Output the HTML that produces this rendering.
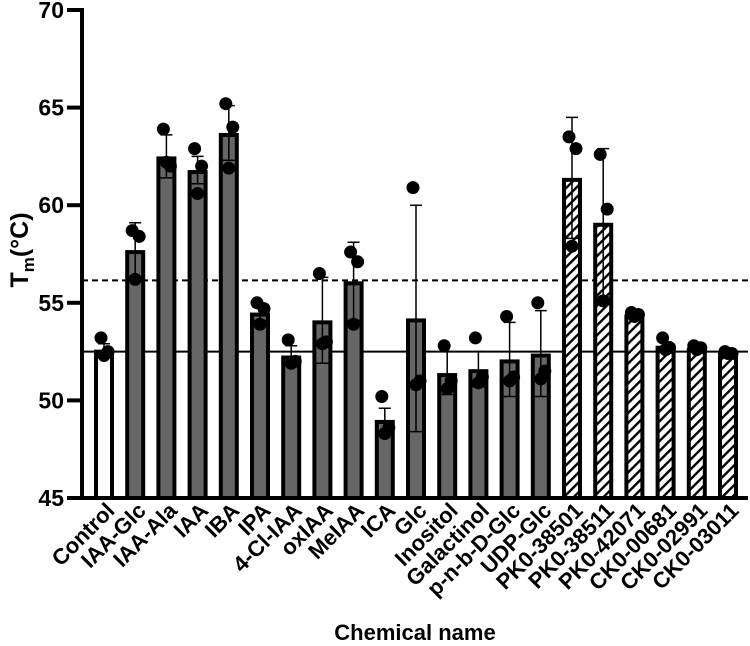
<!DOCTYPE html>
<html><head><meta charset="utf-8"><style>
body{margin:0;background:#fff}
svg{display:block;font-family:"Liberation Sans",Arial,sans-serif;font-weight:bold}
</style></head><body>
<svg id="chart" width="750" height="646" viewBox="0 0 750 646" xmlns="http://www.w3.org/2000/svg">
<defs>
<pattern id="hatch" patternUnits="userSpaceOnUse" width="7" height="7" patternTransform="rotate(45)">
<rect width="7" height="7" fill="#fff"/><rect x="0" y="0" width="2.4" height="7" fill="#000"/>
</pattern>
</defs>
<g id="plot"></g>
</svg>
<script>
const categories=["Control","IAA-Glc","IAA-Ala","IAA","IBA","IPA","4-Cl-IAA","oxIAA","MeIAA","ICA","Glc","Inositol","Galactinol","p-n-b-D-Glc","UDP-Glc","PK0-38501","PK0-38511","PK0-42071","CK0-00681","CK0-02991","CK0-03011"];
const means=[52.6,57.7,62.5,61.8,63.7,54.5,52.3,54.1,56.1,49.0,54.2,51.4,51.6,52.1,52.4,61.4,59.1,54.4,52.8,52.7,52.5];
const sds=[0.3,1.4,1.1,0.7,1.4,0.4,0.5,2.2,2.0,0.6,5.8,1.1,0.9,1.9,2.2,3.1,3.8,0.1,0.2,0.1,0.1];
const rep1=[53.2,58.7,63.9,62.9,65.2,55.0,53.1,56.5,57.6,50.2,60.9,52.8,53.2,54.3,55.0,63.5,62.6,54.5,53.2,52.8,52.5];
const rep2=[52.5,58.4,62.0,62.0,64.0,54.7,52.0,53.0,57.1,48.6,51.0,51.0,51.2,51.2,51.5,62.9,59.8,54.4,52.7,52.7,52.4];
const rep3=[52.3,56.2,62.2,60.6,61.9,53.9,51.9,52.9,53.9,48.3,50.8,50.6,50.9,51.0,51.1,57.9,55.1,54.3,52.6,52.6,52.4];
const kinds=["open","gray","gray","gray","gray","gray","gray","gray","gray","gray","gray","gray","gray","gray","gray","hatch","hatch","hatch","hatch","hatch","hatch"];
const yTicks=[45,50,55,60,65,70];
const refSolid=52.5, refDashed=56.15;

const NS="http://www.w3.org/2000/svg";
const X0=104, STEP=31.2, BW=20, AX=82, AXR=748;
const Y=v=>498-(v-45)*19.52;
const X=i=>X0+i*STEP;
const g=document.getElementById('plot');
function mk(t,a){const e=document.createElementNS(NS,t);for(const k in a)e.setAttribute(k,a[k]);g.appendChild(e);return e;}

let l=mk('line',{x1:AX,x2:AXR,y1:Y(refSolid),y2:Y(refSolid),stroke:'#000','stroke-width':2});


l=mk('line',{x1:AX,x2:AXR,y1:Y(refDashed),y2:Y(refDashed),stroke:'#000','stroke-width':2,'stroke-dasharray':'6,4'});



categories.forEach((c,i)=>{
  const cx=X(i), top=Y(means[i]);
  const fill=kinds[i]==='gray'?'#666':kinds[i]==='hatch'?'url(#hatch)':'#fff';
  const b=mk('rect',{x:cx-BW/2+2,y:top+2,width:BW-4,height:Y(45)-top-2,fill:fill,stroke:'#000','stroke-width':4});
  
  
  const hi=Y(means[i]+sds[i]), lo=Y(means[i]-sds[i]);
  const e=mk('path',{d:`M${cx},${lo}V${hi}M${cx-6},${hi}H${cx+6}M${cx-6},${lo}H${cx+6}`,stroke:'#000','stroke-width':1.5,fill:'none'});
  
  
  [rep1,rep2,rep3].forEach((r,k)=>{
    const off=[-3,4,0][k];
    const d=mk('circle',{cx:cx+off,cy:Y(r[i]),r:6.5,fill:'#000'});
    
    
  });
  const t=mk('text',{x:cx+12,y:512,'font-size':22,'text-anchor':'end',transform:`rotate(-45 ${cx+12} 512)`});
  t.textContent=c;
  
  
});

let a=mk('line',{x1:AX,x2:AX,y1:8,y2:500,stroke:'#000','stroke-width':4});


a=mk('line',{x1:AX-2,x2:AXR,y1:Y(45),y2:Y(45),stroke:'#000','stroke-width':4});


yTicks.forEach(v=>{
  const tk=mk('line',{x1:67,x2:AX,y1:Y(v),y2:Y(v),stroke:'#000','stroke-width':4});
  
  
  const t=mk('text',{x:64,y:Y(v)+8,'font-size':23,'text-anchor':'end'});
  t.textContent=v;
  
  
});
</script>
<svg style="position:absolute;left:0;top:0" width="750" height="646">
<text transform="translate(28 250) rotate(-90)" text-anchor="middle" font-family="Liberation Sans, Arial, sans-serif" font-weight="bold" font-size="25">T<tspan font-size="17" dy="6">m</tspan><tspan dy="-6">(°C)</tspan></text>
<text x="415" y="640" text-anchor="middle" font-family="Liberation Sans, Arial, sans-serif" font-weight="bold" font-size="22">Chemical name</text>
</svg>
</body></html>
